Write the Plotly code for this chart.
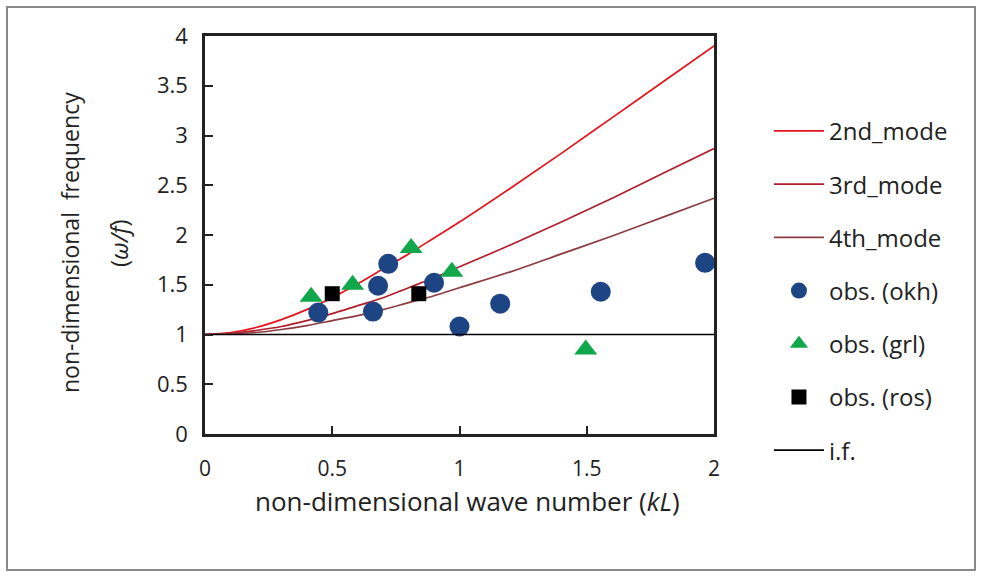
import plotly.graph_objects as go

# Curves
kl_curve = [0.0, 0.1, 0.2, 0.3, 0.4, 0.5, 0.6, 0.7, 0.8, 0.9, 1.0, 1.2, 1.4, 1.6, 1.8, 2.0]
mode2 = [1.00, 1.02, 1.07, 1.15, 1.25, 1.37, 1.51, 1.66, 1.81, 1.97, 2.13, 2.47, 2.82, 3.18, 3.54, 3.90]
mode3 = [1.00, 1.01, 1.04, 1.08, 1.14, 1.21, 1.29, 1.37, 1.47, 1.57, 1.68, 1.90, 2.13, 2.37, 2.62, 2.87]
mode4 = [1.00, 1.01, 1.02, 1.05, 1.09, 1.14, 1.19, 1.25, 1.32, 1.39, 1.47, 1.63, 1.81, 1.99, 2.18, 2.37]

# Observations
okh_x = [0.445, 0.66, 0.68, 0.72, 0.90, 1.00, 1.16, 1.555, 1.965]
okh_y = [1.22, 1.23, 1.49, 1.71, 1.52, 1.08, 1.31, 1.43, 1.72]
grl_x = [0.417, 0.58, 0.81, 0.97, 1.496]
grl_y = [1.38, 1.50, 1.87, 1.63, 0.85]
ros_x = [0.50, 0.84]
ros_y = [1.41, 1.41]
if_x = [0.0, 2.0]
if_y = [1.0, 1.0]

x_ticks = [0, 0.5, 1, 1.5, 2]
x_tick_labels = ["0", "0.5", "1", "1.5", "2"]
y_ticks = [0, 0.5, 1, 1.5, 2, 2.5, 3, 3.5, 4]
y_tick_labels = ["0", "0.5", "1", "1.5", "2", "2.5", "3", "3.5", "4"]

FONT = "Open Sans"
TXT = "#222222"

fig = go.Figure()
fig.add_trace(go.Scatter(x=kl_curve, y=mode2, mode="lines", name="2nd_mode", legendgroup="a",
                         line=dict(color="#e3141c", width=1.7, shape="spline")))
fig.add_trace(go.Scatter(x=kl_curve, y=mode3, mode="lines", name="3rd_mode", legendgroup="b",
                         line=dict(color="#b01e2c", width=1.7, shape="spline")))
fig.add_trace(go.Scatter(x=kl_curve, y=mode4, mode="lines", name="4th_mode", legendgroup="c",
                         line=dict(color="#8c3c40", width=1.7, shape="spline")))
fig.add_trace(go.Scatter(x=okh_x, y=okh_y, mode="markers", name="obs. (okh)", legendgroup="d",
                         marker=dict(symbol="circle", size=20, color="#1d4583")))
fig.add_trace(go.Scatter(x=grl_x, y=grl_y, mode="markers", name="obs. (grl)", legendgroup="e",
                         marker=dict(symbol="triangle-up", size=20, color="#10a84a")))
fig.add_trace(go.Scatter(x=ros_x, y=ros_y, mode="markers", name="obs. (ros)", legendgroup="f",
                         marker=dict(symbol="square", size=15, color="#000000")))
fig.add_trace(go.Scatter(x=if_x, y=if_y, mode="lines", name="i.f.", legendgroup="g",
                         line=dict(color="#000000", width=1.7)))

fig.update_layout(
    width=981, height=576,
    margin=dict(l=205, r=267, t=36, b=142),
    paper_bgcolor="white", plot_bgcolor="white",
    font=dict(family=FONT, size=22, color=TXT),
    showlegend=True,
    legend=dict(x=1.108, y=0.817, xanchor="left", yanchor="top",
                traceorder="grouped", tracegroupgap=19,
                font=dict(family=FONT, size=24, color=TXT),
                itemwidth=50, bgcolor="rgba(0,0,0,0)"),
    xaxis=dict(range=[0, 2], tickvals=x_ticks, ticktext=x_tick_labels,
               showgrid=False, zeroline=False, showline=True, mirror=True,
               linecolor=TXT, linewidth=2.5, ticks="inside", ticklen=8,
               tickwidth=2, tickcolor=TXT, ticklabelstandoff=14,
               tickfont=dict(family=FONT, size=21, color=TXT)),
    yaxis=dict(range=[0, 4], tickvals=y_ticks, ticktext=y_tick_labels,
               showgrid=False, zeroline=False, showline=True, mirror=True,
               linecolor=TXT, linewidth=2.5, ticks="inside", ticklen=8,
               tickwidth=2, tickcolor=TXT, ticklabelstandoff=10,
               tickfont=dict(family=FONT, size=22, color=TXT)),
)

# outer gray frame
fig.add_shape(type="rect", xref="paper", yref="paper",
              x0=(7 - 205) / 509, x1=(975 - 205) / 509,
              y0=(434 - 570) / 398, y1=(434 - 7) / 398,
              line=dict(color="#8a8a8a", width=2), fillcolor="rgba(0,0,0,0)", layer="below")

# axis titles
fig.add_annotation(text="non-dimensional  frequency", xref="paper", yref="paper",
                   x=(70 - 205) / 509, y=(434 - 243) / 398, textangle=-90,
                   showarrow=False, xanchor="center", yanchor="middle",
                   font=dict(family=FONT, size=23, color=TXT))
fig.add_annotation(text="(<i>ω/f</i>)", xref="paper", yref="paper",
                   x=(118 - 205) / 509, y=(434 - 243) / 398, textangle=-90,
                   showarrow=False, xanchor="center", yanchor="middle",
                   font=dict(family=FONT, size=24, color=TXT))
fig.add_annotation(text="non-dimensional wave number (<i>kL</i>)", xref="paper", yref="paper",
                   x=(467 - 205) / 509, y=(434 - 501) / 398,
                   showarrow=False, xanchor="center", yanchor="middle",
                   font=dict(family=FONT, size=26, color=TXT))

fig.write_html("out.html")
